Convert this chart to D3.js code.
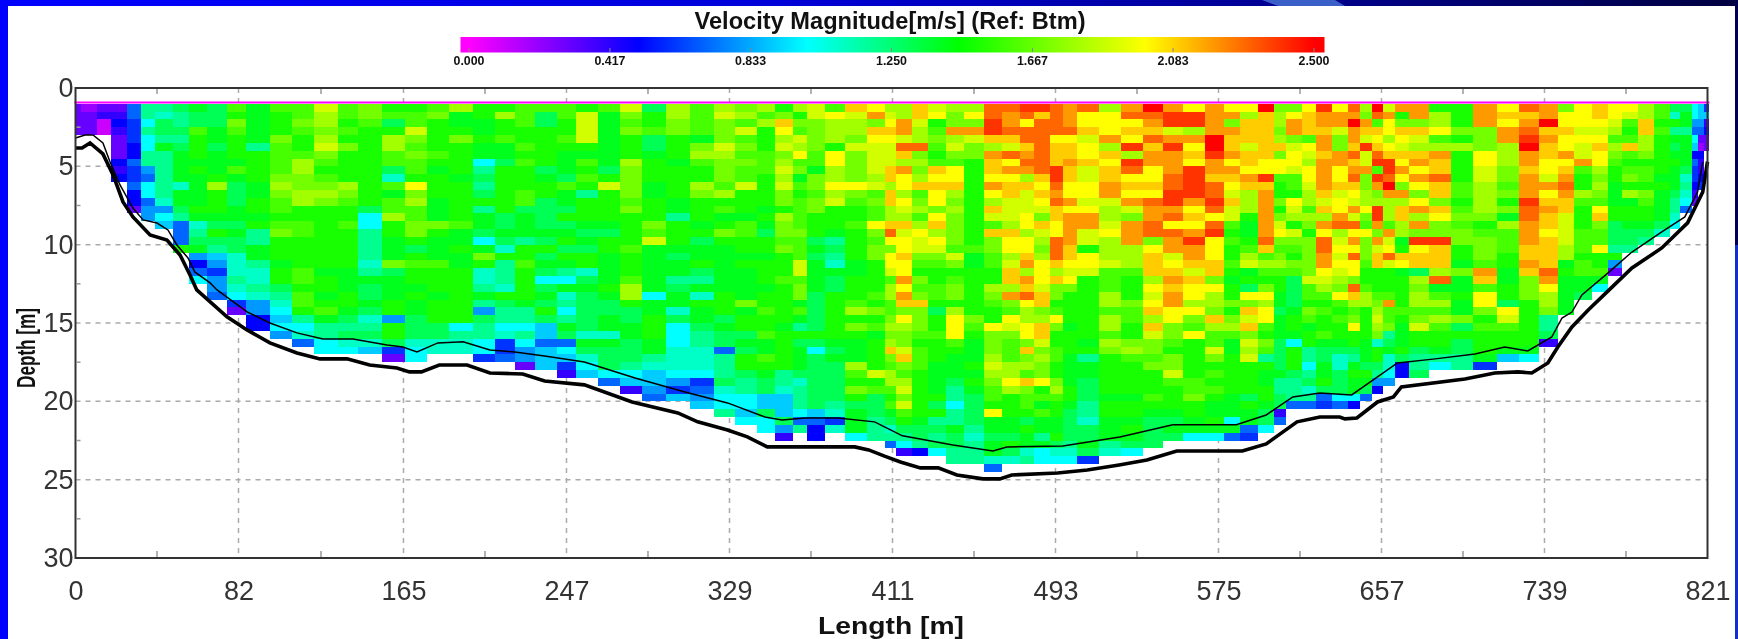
<!DOCTYPE html>
<html><head><meta charset="utf-8">
<script src="https://cdn.jsdelivr.net/npm/d3@7/dist/d3.min.js"></script>
<style>
html,body{margin:0;padding:0;background:#fff;overflow:hidden}
svg{display:block;filter:blur(0.6px)}
text{font-family:"Liberation Sans",Arial,sans-serif}
</style></head><body>
<div id="chart"></div>
<script>
// Tick labels
const lengthTicks=[0,82,165,247,329,411,493,575,657,739,821];
const depthTicks=[0,5,10,15,20,25,30];
const legendTicks=[0,0.417,0.833,1.25,1.667,2.083,2.5];
const legendLabels=["0.000","0.417","0.833","1.250","1.667","2.083","2.500"];
const colorStops=[0,0.5,1,1.45,2,2.5];
const colorNames=["#ff00ff","#0000ff","#00ffff","#00ff00","#ffff00","#ff0000"];
const firstBinDepth=1.0, binSize=0.5;

// Ensemble edges along the transect [m]
const columnEdges=[0,3,6,11,18,26,33,40,49,57,66,76,86,98,109,120,132,142,154,166,177,188,200,211,221,231,242,252,263,274,285,297,309,321,332,343,352,361,368,377,387,398,407,413,421,429,438,447,457,466,475,482,490,497,504,515,526,537,547,557,568,578,586,595,603,609,617,624,632,640,646,652,658,664,671,681,692,703,715,726,736,746,754,763,771,778,786,794,802,807,813,816,819,822];

// Velocity of each ensemble from 1 m downward, in tenths of m/s
const profiles=[
[3,3,3,3],
[2,3,3,3],
[2,3,3,3],
[3,4,1,1],
[3,4,5,4,3,3,3,5,4,5],
[7,7,6,6,6,5,5,7,6,6,7,5,5,3],
[12,12,10,12,10,10,12,12,8,7,10,10,7,8,8],
[12,11,13,13,12,14,12,12,12,12,12,12,11,8,10,9],
[13,12,12,13,12,13,14,14,14,14,11,14,14,13,12,7,7,7,15],
[14,13,13,16,15,15,15,14,15,14,14,14,14,15,14,11,12,13,14,8,5,7,10],
[13,13,13,14,14,13,14,14,14,15,18,15,15,15,14,13,15,13,12,9,8,6,8,8,7],
[16,15,17,16,15,15,15,14,16,14,13,13,13,14,14,13,14,13,13,11,11,11,12,11,10,6,3],
[14,14,14,14,14,12,15,15,15,15,14,14,15,15,14,15,12,12,14,14,12,11,11,12,11,8,8,5,5],
[16,15,15,15,17,16,16,16,16,17,18,17,16,16,15,16,17,15,15,15,14,15,15,13,12,11,10,9,10,8],
[16,16,17,16,15,15,16,18,18,17,17,18,18,15,15,16,16,15,15,15,15,16,16,15,16,16,15,12,10,11,7],
[19,18,18,17,18,19,17,16,15,16,17,18,17,15,15,15,15,15,15,15,15,14,15,15,14,15,16,14,12,12,10,10],
[16,16,15,16,15,17,15,15,15,15,18,17,16,15,15,16,15,15,15,15,15,14,14,14,15,15,14,13,12,13,11,10],
[17,17,16,15,15,15,15,15,15,15,15,15,15,13,10,10,12,12,12,12,11,12,14,13,13,14,13,11,12,13,11,9],
[15,16,13,15,18,18,16,16,13,11,16,14,16,16,18,15,15,14,14,14,17,13,14,14,14,15,15,8,15,15,13,6,3],
[15,16,16,19,17,16,17,16,16,15,20,17,18,16,16,17,17,15,13,15,16,15,15,14,15,14,14,13,13,13,11,10,10],
[16,17,15,15,15,15,16,15,14,15,15,15,14,14,14,17,15,14,14,14,16,15,15,15,14,15,15,15,13,13,11,11],
[18,14,14,15,17,15,15,15,15,14,15,15,15,15,15,16,14,14,15,14,14,15,15,15,15,15,15,15,10,12,11,11],
[15,15,14,14,15,14,14,10,12,13,12,13,15,12,14,14,13,10,14,17,15,11,11,12,14,12,8,13,12,12,10,10,6],
[15,18,15,15,16,14,14,13,15,15,15,15,15,15,13,13,14,13,11,15,12,12,12,11,15,13,12,12,10,11,6,6,7],
[16,16,16,15,15,16,15,16,15,15,15,16,16,13,14,14,14,12,15,15,16,15,15,15,15,14,12,12,10,12,10,8,8,3],
[16,13,13,15,15,15,15,15,13,14,15,15,13,13,13,13,14,13,15,13,14,13,10,13,14,13,15,13,9,9,7,9,9,9],
[16,16,15,15,16,15,14,14,14,13,16,14,14,13,15,13,14,15,13,15,14,12,10,14,11,12,10,12,14,13,7,10,9,6,4],
[15,19,19,19,19,15,14,16,15,16,15,12,15,15,15,14,13,14,13,15,15,11,13,14,13,13,13,13,13,11,14,13,11,10,9],
[16,14,14,14,14,14,14,14,13,15,19,15,15,15,15,14,13,15,15,14,14,14,14,15,14,13,13,14,14,11,14,13,13,13,10,7],
[19,17,16,17,15,15,15,18,17,17,17,17,16,17,15,15,15,15,16,15,15,15,16,18,18,15,13,13,14,14,13,13,13,12,10,9,4],
[13,15,15,16,13,13,14,15,15,15,14,14,15,15,15,17,16,19,14,14,14,14,14,14,10,14,14,15,15,15,14,14,12,11,9,9,8,7],
[18,18,17,17,15,15,15,14,15,15,15,15,14,14,12,15,15,15,14,13,14,14,12,13,14,14,11,13,10,10,10,11,11,11,10,8,6,9],
[16,16,16,16,14,17,18,16,15,15,18,17,15,15,15,14,15,13,14,14,15,13,12,14,11,15,14,14,13,12,12,11,11,11,10,6,7,8,9],
[18,19,17,17,17,19,18,17,17,17,16,18,15,16,14,15,17,15,14,14,14,14,14,14,15,15,15,13,14,13,13,7,12,12,12,13,11,10,10,12],
[17,18,16,19,16,17,16,17,16,16,19,15,15,15,14,16,16,15,15,14,15,14,14,14,14,17,14,15,15,13,14,13,15,15,13,12,12,10,10,9,10],
[18,16,18,15,15,15,16,16,16,15,15,15,15,14,15,14,13,15,15,14,15,15,15,14,15,15,16,15,15,16,14,14,16,15,14,13,13,9,9,13,10,10],
[15,17,21,20,18,19,17,18,19,18,19,17,17,15,18,17,17,16,17,15,15,15,16,15,15,15,15,15,14,15,15,15,15,15,12,12,11,9,9,9,13,8,4],
[18,15,17,16,19,18,20,16,17,14,16,15,16,16,16,16,17,16,16,16,19,19,16,17,17,14,16,14,12,15,13,14,14,14,13,11,12,12,12,10,7,12],
[19,19,17,17,17,17,16,16,14,17,17,16,17,17,15,15,15,13,14,13,14,14,14,14,13,13,13,13,13,15,13,10,13,13,13,13,13,13,13,9,7,5,5],
[16,20,18,18,18,15,20,20,18,18,20,18,19,15,15,15,14,12,13,12,11,14,13,13,15,15,15,15,15,15,14,13,14,13,13,13,13,13,12,11,6,11],
[21,19,18,18,17,19,17,17,17,17,20,17,16,15,15,16,15,15,15,15,14,14,15,15,15,16,18,15,17,15,14,14,14,18,16,15,17,15,13,14,14,14,10],
[20,22,17,21,20,19,19,19,19,18,19,16,17,16,16,20,17,16,17,17,15,15,15,15,16,15,17,15,16,14,15,15,15,15,19,15,16,13,13,13,12,12,12],
[18,19,20,21,20,19,19,19,21,21,18,21,21,18,18,21,23,20,17,20,20,19,16,18,18,16,16,17,18,17,18,21,17,16,18,18,16,15,16,14,13,11,12,7],
[18,18,22,22,19,23,21,18,22,20,20,18,20,19,18,21,19,20,20,21,20,20,22,20,22,21,17,20,18,17,17,19,21,17,16,18,19,17,19,16,15,13,12,10,4],
[21,21,19,18,18,23,17,18,17,18,21,16,17,18,16,18,20,19,19,17,16,15,17,16,17,21,17,17,17,16,15,16,16,16,15,15,15,15,15,15,14,13,13,12,5],
[19,20,15,16,17,16,15,16,21,20,21,20,20,17,20,21,18,20,19,17,16,15,15,16,16,15,13,15,15,16,15,15,15,14,14,14,14,15,13,15,12,13,12,13,10],
[18,17,17,22,18,19,17,16,20,20,21,18,17,18,17,17,17,17,16,19,17,15,16,17,17,15,18,20,20,20,16,15,14,14,14,13,12,12,10,12,12,14,13,13,12,12],
[18,20,17,22,19,17,17,15,15,15,15,15,15,15,15,15,15,15,16,14,14,15,15,15,15,15,15,17,16,15,14,14,14,15,14,15,14,13,13,13,13,12,11,12,12,12],
[23,23,24,24,21,18,22,21,21,20,22,20,18,21,19,16,21,17,17,16,16,15,15,18,17,16,15,15,20,17,17,17,18,19,18,17,16,16,15,20,14,14,13,14,14,11,7],
[23,22,22,23,21,19,23,20,22,20,21,21,19,19,19,18,21,20,20,18,19,21,21,18,22,17,16,20,19,17,16,16,16,18,18,20,18,15,15,15,14,14,13,15,13,11],
[24,23,20,23,23,21,22,23,22,18,21,19,19,19,20,20,18,20,20,21,22,18,22,21,23,20,18,18,20,20,17,21,17,18,16,21,17,16,16,15,13,15,14,14,11,12],
[24,21,23,23,23,23,23,23,23,21,20,21,20,19,17,21,19,18,17,18,20,20,20,19,21,21,17,18,21,21,19,17,18,17,17,20,15,16,14,16,14,14,12,14,10,10],
[23,23,23,23,20,21,21,21,24,24,23,22,23,21,21,20,20,23,23,23,21,18,21,17,17,15,16,20,17,15,15,16,16,15,15,17,18,16,15,15,14,14,15,13,11,10],
[22,22,22,23,20,21,21,22,21,21,20,20,22,20,22,22,22,22,21,21,20,19,20,17,15,15,15,15,14,15,15,15,14,14,14,14,15,15,14,13,13,13,13,12,11,10],
[23,20,20,21,19,20,20,21,19,19,20,20,19,20,22,22,19,19,15,20,20,19,15,15,15,15,15,15,15,15,14,15,12,14,14,13,13,13,12,12,11,13,13,14,13,6],
[18,20,20,20,22,18,21,20,21,21,22,22,19,18,18,19,20,18,18,18,19,16,16,16,18,18,16,18,18,16,18,17,15,15,15,15,15,14,15,15,14,14,14,12,11],
[22,23,20,21,20,24,18,24,23,20,21,20,22,19,17,22,22,22,18,18,18,16,15,15,15,17,16,16,15,15,17,18,16,15,15,15,15,14,15,15,14,15,14,13,10],
[25,23,22,21,23,21,22,22,20,20,21,20,23,22,22,23,23,17,20,21,21,21,18,20,19,20,21,18,21,19,17,17,16,17,15,15,15,16,15,14,13,13,13,13],
[22,24,24,19,22,24,22,22,22,23,23,24,24,22,23,20,23,22,22,19,20,21,22,21,22,22,20,20,17,17,16,15,17,17,19,16,15,15,15,14,13,14,13],
[20,24,24,18,22,20,21,20,24,24,24,24,22,20,21,20,22,24,22,22,21,19,21,20,20,18,20,17,16,20,15,15,15,15,15,16,16,17,15,15,14,14,10],
[22,22,22,22,25,25,24,22,22,21,23,23,24,23,20,23,24,20,20,20,21,21,17,20,18,18,17,21,18,16,16,19,17,15,16,15,16,15,14,14,15,14,10],
[20,22,17,22,21,21,22,20,22,21,20,19,21,19,19,16,15,16,15,15,16,15,14,15,15,17,15,17,18,16,14,14,15,15,15,15,15,14,14,14,10,14,7],
[20,18,21,21,21,19,21,21,20,22,21,18,18,18,15,14,14,15,16,18,19,14,15,13,20,17,21,19,21,17,19,18,19,15,15,15,15,13,15,14,14,7,6],
[25,21,21,21,21,21,21,20,20,24,21,22,22,22,22,22,22,23,21,16,18,16,15,17,20,18,20,20,16,15,17,16,12,15,14,14,15,15,14,13,13,10],
[17,18,18,17,18,21,17,20,20,16,15,15,17,15,17,19,20,17,16,17,18,16,15,15,14,14,13,14,14,14,13,13,13,13,14,12,12,13,13,4,7],
[17,20,22,22,17,19,20,20,19,16,16,15,20,19,18,15,19,17,16,15,17,16,13,13,13,13,14,15,15,14,10,15,15,15,13,12,12,12,7],
[20,21,21,21,16,20,19,18,20,20,19,18,18,16,18,17,15,17,17,17,17,17,19,16,16,15,17,16,14,15,15,12,12,10,12,13,11,12,7],
[24,22,22,21,22,22,21,22,22,22,22,21,19,21,18,22,20,23,23,22,22,20,19,18,16,15,16,15,15,16,14,13,13,14,14,15,13,7,6],
[20,22,22,19,17,17,22,22,20,20,21,19,20,20,22,23,18,19,20,19,20,19,18,17,20,16,15,16,15,15,14,13,11,11,13,13,13,10,7],
[23,22,25,22,22,21,23,21,22,23,21,20,19,22,19,23,20,22,20,23,20,20,17,23,21,18,16,17,20,15,15,13,12,14,15,14,14,10,5],
[18,17,22,21,19,24,19,19,22,17,17,18,18,20,17,16,20,17,17,17,16,15,15,16,18,18,15,15,15,15,14,14,14,13,15,14,13,7],
[25,23,16,21,20,21,23,24,16,24,22,17,18,24,24,22,17,22,19,21,21,15,15,15,16,17,18,19,18,17,11,15,15,13,12,8,5],
[19,22,20,20,18,20,21,24,24,23,25,22,18,18,18,16,22,19,20,23,19,15,15,15,16,22,16,16,17,12,13,14,11,11,10,8],
[22,15,17,21,20,19,21,20,22,20,17,22,18,21,21,18,18,14,15,21,20,14,15,15,15,15,16,15,14,14,14,15,13,5,5],
[22,22,17,21,19,18,21,22,20,22,20,17,20,22,18,22,17,24,20,21,21,13,18,17,18,18,16,17,19,15,15,13,12,12,13],
[15,18,18,20,16,18,22,21,21,23,21,21,17,21,20,17,17,24,21,21,21,18,23,14,16,18,16,18,16,15,15,14,12,10],
[15,15,15,17,15,18,15,15,15,15,16,16,15,16,17,16,17,17,15,15,14,17,14,14,15,14,14,17,13,15,13,13,12,12],
[22,22,22,17,17,17,20,20,19,19,18,18,18,18,17,15,16,17,17,17,16,22,21,16,20,20,17,15,16,15,15,15,14,6],
[20,21,20,22,22,18,18,18,17,17,16,17,15,17,14,18,16,16,16,15,15,14,14,15,15,13,20,19,16,15,15,14,9],
[23,21,22,23,24,25,22,22,21,22,22,22,24,23,23,22,22,22,21,21,22,21,17,17,17,15,15,15,15,15,15,14,10],
[22,22,25,21,22,21,21,20,20,19,22,20,21,22,21,21,20,21,21,21,21,23,22,20,18,18,17,12,12,13,4],
[17,20,20,21,20,20,22,20,21,22,23,22,21,21,19,19,19,19,18,18,14,15,14,14,14,14,14],
[20,20,20,19,20,19,19,22,16,15,15,18,16,15,15,15,16,16,16,15,16,16,14,14,13],
[21,21,20,19,20,21,20,20,18,17,18,17,16,20,21,17,16,16,20,15,15,16,14,10],
[20,20,19,18,16,18,17,16,15,15,14,14,14,15,15,13,13,13,12,15,8,3],
[20,19,16,15,16,21,16,15,16,17,15,18,14,15,15,14,13,13,12],
[18,18,21,21,18,18,17,15,16,16,15,17,16,15,15,14,13,12],
[16,16,15,16,15,15,15,15,15,14,15,14,14,14,14,13,11],
[13,11,15,12,14,13,14,15,14,14,14,13,12,12,11,10],
[13,14,14,12,14,14,14,14,13,11,12,11,10,7],
[10,10,8,7,10,9,5,7,6,6,5,4,3],
[9,9,8,7,3,2,5,4,4,5,6],
[6,9,4,5,3,3]
];

// Bottom track: [length m, depth m]
const bottomTrack=[[0,3.83],[3.3,3.83],[7.3,3.51],[13.8,4.21],[18.9,5.55],[23.9,7.27],[28.9,8.23],[37.5,9.38],[46,9.7],[52.6,10.66],[57.6,11.93],[61,12.89],[76.2,14.6],[86.3,15.44],[97.8,16.27],[111.4,16.91],[123,17.29],[136.6,17.29],[148,17.68],[161.7,17.87],[168,18.12],[174,18.12],[183,17.68],[197,17.68],[208.5,18.19],[225,18.25],[236,18.7],[256,18.95],[280,20.04],[303,20.74],[313,21.31],[328,21.83],[338,22.27],[348,22.91],[392,22.91],[399,23.1],[407,23.5],[415,23.87],[425,24.25],[434,24.25],[443.4,24.7],[456.5,24.95],[465,24.95],[471,24.7],[494,24.57],[509,24.38],[525,24.06],[539,23.74],[554,23.17],[587,23.17],[599,22.72],[614.5,21.31],[626,21],[636,21],[638.6,21.12],[644.6,21.06],[655,20.04],[663,19.72],[667,19.08],[699,18.57],[714,18.19],[725.6,18.12],[732.6,18.19],[740.7,17.55],[745.7,16.53],[752.8,15.25],[761,14.17],[771,12.95],[783,11.49],[798,10.21],[811,8.61],[818.6,6.64],[821,4.7]];
// Side-lobe limit line: [length m, depth m]
const sideLobe=[[0,3.19],[4.8,3],[8.8,3],[13.8,3.51],[17.4,4.72],[22.4,6.19],[28.9,7.66],[34,8.42],[41,8.62],[46.5,9.06],[51,10.02],[56.6,10.85],[60,11.74],[67.7,12.44],[71.2,12.89],[86.3,14.29],[97.8,15],[111.4,15.63],[124.5,16.02],[139.6,16.02],[156.7,16.4],[164.7,16.53],[171.8,16.85],[182.3,16.27],[195,16.2],[208.5,16.72],[221,16.85],[236,17.1],[256,17.49],[281.5,18.51],[306.6,19.4],[328,20.1],[346.8,21],[355.4,21.19],[367,21.06],[383.5,21.06],[402,21.31],[416,22.2],[441.4,22.78],[461.5,23.17],[468.5,22.91],[496.7,22.85],[525.4,22.27],[552,21.5],[584,21.5],[599,20.87],[612.4,19.72],[626,19.47],[642,19.59],[655,18.44],[665,17.55],[684,17.29],[704,16.98],[719,16.53],[730.6,16.78],[742.7,15.89],[747.8,14.68],[752.8,14.3],[757.8,13.21],[771,11.8],[783,10.47],[798,9.19],[809.6,8.23],[816,6.64],[818.6,4.72]];

const W=1738,H=639;
const x=d3.scaleLinear().domain([0,821]).range([75.5,1707.5]);
const y=d3.scaleLinear().domain([0,30]).range([88,558]);
const color=d3.scaleLinear().domain(colorStops).range(colorNames).clamp(true);
const legendX=d3.scaleLinear().domain([0,2.5]).range([469,1314]);

const svg=d3.select("#chart").append("svg").attr("width",W).attr("height",H);
const defs=svg.append("defs");
const topGrad=defs.append("linearGradient").attr("id","topGrad");
topGrad.append("stop").attr("offset",0).attr("stop-color","#0000ff");
topGrad.append("stop").attr("offset",0.45).attr("stop-color","#0000d8");
topGrad.append("stop").attr("offset",0.75).attr("stop-color","#000090");
topGrad.append("stop").attr("offset",1).attr("stop-color","#000040");
const legGrad=defs.append("linearGradient").attr("id","legGrad").attr("gradientUnits","userSpaceOnUse")
  .attr("x1",legendX(0)).attr("x2",legendX(2.5)).attr("y1",0).attr("y2",0);
colorStops.forEach((s,i)=>legGrad.append("stop").attr("offset",s/2.5).attr("stop-color",colorNames[i]));

// Slide frame
svg.append("rect").attr("width",W).attr("height",6).attr("fill","url(#topGrad)");
svg.append("polygon").attr("points","1262,0 1335,0 1345,6 1278,6").attr("fill","#3a5fc8");
svg.append("rect").attr("width",8).attr("height",H).attr("fill","#0000ff");
svg.append("rect").attr("x",1735).attr("width",3).attr("height",245).attr("fill","#000050");
svg.append("rect").attr("x",1735).attr("y",245).attr("width",3).attr("height",H-245).attr("fill","#1030c8");

// Grid
const grid=svg.append("g").attr("stroke","#aaa").attr("stroke-width",1.5).attr("stroke-dasharray","5 5");
grid.selectAll("line.v").data(lengthTicks.slice(1,-1)).join("line").attr("class","v")
  .attr("x1",d=>x(d)).attr("x2",d=>x(d)).attr("y1",y(0)).attr("y2",y(30));
grid.selectAll("line.h").data(depthTicks.slice(1,-1)).join("line").attr("class","h")
  .attr("x1",x(0)).attr("x2",x(821)).attr("y1",d=>y(d)).attr("y2",d=>y(d));

// Velocity cells
const cells=[];
profiles.forEach((p,i)=>p.forEach((v,r)=>cells.push({i,r,v:v/10})));
svg.append("g").attr("shape-rendering","crispEdges").selectAll("rect").data(cells).join("rect")
  .attr("x",d=>x(columnEdges[d.i])).attr("width",d=>x(columnEdges[d.i+1])-x(columnEdges[d.i]))
  .attr("y",d=>y(firstBinDepth+d.r*binSize)).attr("height",d=>y(firstBinDepth+(d.r+1)*binSize)-y(firstBinDepth+d.r*binSize))
  .attr("fill",d=>color(d.v));

// Surface line at first bin
svg.append("line").attr("x1",x(0)-1).attr("x2",x(822)).attr("y1",y(0.93)).attr("y2",y(0.93))
  .attr("stroke","#ff00ff").attr("stroke-width",2);

// Track lines
const line=d3.line().x(d=>x(d[0])).y(d=>y(d[1]));
svg.append("path").attr("d",line(sideLobe)).attr("fill","none").attr("stroke","#000").attr("stroke-width",1.5);
svg.append("path").attr("d",line(bottomTrack)).attr("fill","none").attr("stroke","#000").attr("stroke-width",3.6);

// Frame
svg.append("rect").attr("x",x(0)).attr("y",y(0)).attr("width",x(821)-x(0)).attr("height",y(30)-y(0))
  .attr("fill","none").attr("stroke","#333").attr("stroke-width",2);

// Minor and top ticks
const midLengths=d3.pairs(lengthTicks).map(p=>(p[0]+p[1])/2);
const ticks=svg.append("g").attr("stroke","#999").attr("stroke-width",1.5);
ticks.selectAll("line.bm").data(midLengths).join("line").attr("class","bm")
  .attr("x1",d=>x(d)).attr("x2",d=>x(d)).attr("y1",y(30)-1).attr("y2",y(30)-7);
ticks.selectAll("line.tm").data(midLengths).join("line").attr("class","tm")
  .attr("x1",d=>x(d)).attr("x2",d=>x(d)).attr("y1",y(0)+1).attr("y2",y(0)+6);
ticks.selectAll("line.lm").data(d3.pairs(depthTicks).map(p=>(p[0]+p[1])/2)).join("line").attr("class","lm")
  .attr("x1",x(0)+1).attr("x2",x(0)+5).attr("y1",d=>y(d)).attr("y2",d=>y(d));

// Axes
const xAxis=svg.append("g").attr("transform",`translate(0,${y(30)})`)
  .call(d3.axisBottom(x).tickValues(lengthTicks).tickFormat(d3.format("d")).tickSize(0).tickPadding(23));
const yAxis=svg.append("g").attr("transform",`translate(${x(0)},0)`)
  .call(d3.axisLeft(y).tickValues(depthTicks).tickFormat(d3.format("d")).tickSize(0).tickPadding(2));
[xAxis,yAxis].forEach(a=>{a.select(".domain").remove();
  a.selectAll("text").attr("fill","#333").style("font-family","'Liberation Sans',Arial,sans-serif").style("font-size","27px");});
xAxis.selectAll("text").attr("dy","0.71em");

// Axis titles
svg.append("text").attr("x",891).attr("y",634).attr("text-anchor","middle").attr("font-weight","bold")
  .attr("font-size",24).attr("fill","#111").attr("textLength",146).attr("lengthAdjust","spacingAndGlyphs").text("Length [m]");
svg.append("text").attr("transform","translate(35,348) rotate(-90)").attr("text-anchor","middle").attr("font-weight","bold")
  .attr("font-size",26).attr("fill","#111").attr("textLength",80).attr("lengthAdjust","spacingAndGlyphs").text("Depth [m]");

// Legend
svg.append("text").attr("x",890).attr("y",29).attr("text-anchor","middle").attr("font-weight","bold")
  .attr("font-size",23).attr("fill","#111").attr("textLength",391).attr("lengthAdjust","spacingAndGlyphs").text("Velocity Magnitude[m/s] (Ref: Btm)");
svg.append("rect").attr("x",460.5).attr("y",37).attr("width",864).attr("height",15.5).attr("fill","url(#legGrad)");
svg.append("g").selectAll("line").data(legendTicks).join("line")
  .attr("x1",d=>legendX(d)).attr("x2",d=>legendX(d)).attr("y1",48).attr("y2",52).attr("stroke","#888");
svg.append("g").selectAll("text").data(legendTicks).join("text")
  .attr("x",d=>legendX(d)).attr("y",65).attr("text-anchor","middle").attr("font-size",13).attr("font-weight","bold")
  .attr("fill","#111").attr("textLength",31).attr("lengthAdjust","spacingAndGlyphs").text((d,i)=>legendLabels[i]);
</script></body></html>
